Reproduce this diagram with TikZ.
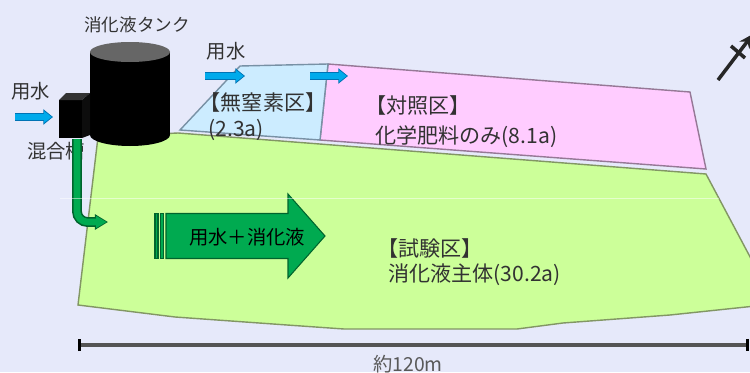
\documentclass[tikz,border=0pt]{standalone}
\usepackage{fontspec}
\setmainfont{Noto Sans CJK JP}
\usetikzlibrary{arrows.meta}
\definecolor{sky}{RGB}{230,233,250}
\definecolor{testplot}{RGB}{204,255,153}
\definecolor{testedge}{RGB}{130,150,100}
\definecolor{ctrlplot}{RGB}{255,204,255}
\definecolor{ctrledge}{RGB}{150,120,150}
\definecolor{nonplot}{RGB}{204,236,255}
\definecolor{nonedge}{RGB}{120,145,165}
\definecolor{water}{RGB}{0,170,235}
\definecolor{waterline}{RGB}{0,115,180}
\definecolor{slurry}{RGB}{0,170,80}
\definecolor{slurryline}{RGB}{0,100,45}
\definecolor{ink}{RGB}{50,50,50}
\begin{document}
\begin{tikzpicture}[x=0.02cm, y=-0.02cm, every node/.style={font=\fontsize{12}{14}\selectfont, text=ink, inner sep=0pt},
  lbl/.style={font=\fontsize{11}{13}\selectfont},
  pipeout/.style={slurryline, line width=5.6pt, rounded corners=6pt, -{Triangle[width=8.5pt,length=7.5pt]}},
  pipein/.style={slurry, line width=3.8pt, rounded corners=6pt, shorten >=0.8pt, -{Triangle[width=6.5pt,length=6pt]}},
  feedout/.style={waterline, line width=4.8pt, -{Triangle[width=8.5pt,length=5.5pt]}},
  feedin/.style={water, line width=3.4pt, shorten >=0.7pt, -{Triangle[width=6.5pt,length=4.5pt]}}]
\fill[sky] (0,0) rectangle (750,372);
\useasboundingbox (0,0) rectangle (750,372);

\fill[testplot, draw=testedge, line width=0.8pt] (98,137) -- (178,133) -- (706,174) -- (765,285) -- (765,305) -- (670,315) -- (563,323) -- (517,329) -- (344,329) -- (287,325) -- (175,317) -- (78,305) -- cycle;
\fill[ctrlplot, draw=ctrledge, line width=0.8pt] (328,64) -- (690,92) -- (706,169) -- (320,140) -- cycle;
\fill[nonplot, draw=nonedge, line width=0.8pt] (240,66) -- (328,64) -- (320,140) -- (180,130) -- cycle;

\node (noN) at (263,102) {【無窒素区】};
\node[anchor=west] (noNarea) at (208,130) {(2.3a)};
\node (ctrl) at (418,105) {【対照区】};
\node[anchor=west] (ctrlarea) at (375,137) {化学肥料のみ(8.1a)};
\node (test) at (430,248) {【試験区】};
\node[anchor=west] (testarea) at (388,275) {消化液主体(30.2a)};

\fill[black] (90,52) rectangle (170,135);
\fill[black] (130,135) ellipse [x radius=40, y radius=11];
\fill[black!60] (130,52) ellipse [x radius=40, y radius=10];
\node[font=\fontsize{10}{12}\selectfont] (tank) at (137,25) {消化液タンク};

\fill[black] (59,100) rectangle (82,138);
\fill[black!80] (59,100) -- (66,93) -- (90,93) -- (82,100) -- cycle;
\fill[black!95] (82,100) -- (90,93) -- (90,135) -- (82,138) -- cycle;
\node[lbl] (mixer) at (56,151) {混合槽};
\node[lbl] (waterL) at (31,91) {用水};
\node[lbl] (waterT) at (226,51) {用水};

\coordinate (feedL0) at (15,117);
\coordinate (feedL1) at (53,117);
\coordinate (feedA0) at (205,76);
\coordinate (feedA1) at (245,76);
\coordinate (feedB0) at (310,76);
\coordinate (feedB1) at (348,76);
\foreach \s/\e in {feedL0/feedL1, feedA0/feedA1, feedB0/feedB1} {
  \draw[feedout] (\s) -- (\e);
  \draw[feedin] (\s) -- (\e);
}

\coordinate (mixout) at (77,139);
\coordinate (plotin) at (108,222);
\draw[pipeout] (mixout) |- (plotin);
\draw[pipein] (mixout) |- (plotin);

\fill[slurry, draw=slurryline, line width=0.6pt] (155,213.5) rectangle (158,258.5);
\fill[slurry, draw=slurryline, line width=0.6pt] (160.5,213.5) rectangle (163.5,258.5);
\fill[slurry, draw=slurryline, line width=0.6pt] (166,213.5) -- (288,213.5) -- (288,194) -- (325,236) -- (288,278) -- (288,258.5) -- (166,258.5) -- cycle;
\node[lbl, text=black] (mix) at (247,237) {用水＋消化液};

\draw[white, opacity=.5, line width=.4pt] (60,198) -- (719,198);

\coordinate (northS) at (718,80);
\coordinate (northN) at (753,34);
\draw[black!85, line width=2pt, -{Stealth[length=8pt,width=7pt]}] (northS) -- (northN);
\draw[black!85, line width=2pt] (731,46) -- (745,58);

\coordinate (spanL) at (78,345);
\coordinate (spanR) at (749,345);
\draw[black!67, line width=2.6pt, {Bar[width=7pt,black,line width=1.6pt]}-{Bar[width=7pt,black,line width=1.6pt]}] (spanL) -- (spanR);
\node[lbl, text=black!65] (span) at (408,364) {約120m};
\end{tikzpicture}
\end{document}
